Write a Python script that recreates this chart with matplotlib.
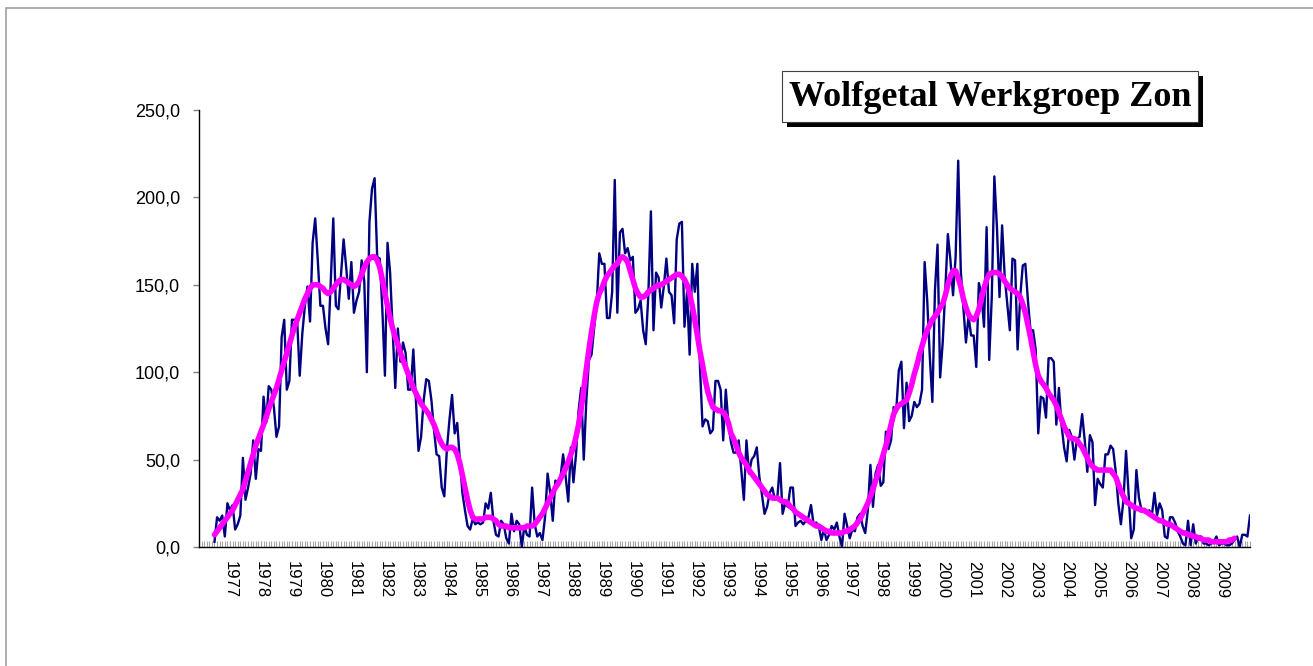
import matplotlib
matplotlib.use('Agg')
import matplotlib.pyplot as plt
import numpy as np
from matplotlib.patches import Rectangle

## maandelijkse wolfgetallen, jul 1976 t/m dec 2009
wolf_monthly = [
    3, 17, 15, 18, 6, 25,                                   # 1976 jul-dec
    21, 24, 10, 13, 18, 51, 27, 34, 42, 61, 39, 56,         # 1977
    55, 86, 71, 92, 90, 80, 63, 69, 120, 130, 90, 95,       # 1978
    130, 130, 130, 98, 122, 138, 149, 129, 174, 188, 164, 138,   # 1979
    138, 125, 116, 151, 188, 138, 136, 156, 176, 160, 142, 163,  # 1980
    134, 141, 146, 164, 152, 100, 186, 205, 211, 166, 165, 136,  # 1981
    98, 174, 157, 124, 91, 125, 106, 117, 111, 90, 90, 113,      # 1982
    84, 55, 63, 84, 96, 95, 84, 67, 53, 52, 34, 29,         # 1983
    56, 73, 87, 65, 71, 50, 31, 21, 12, 10, 16, 13,         # 1984
    14, 13, 14, 25, 22, 31, 15, 7, 6, 15, 13, 5,            # 1985
    2, 19, 9, 15, 13, 0, 12, 7, 6, 34, 13, 6,               # 1986
    8, 4, 17, 42, 31, 15, 38, 36, 40, 53, 40, 26,           # 1987
    57, 37, 53, 78, 91, 50, 84, 107, 110, 125, 139, 168,    # 1988
    162, 162, 131, 131, 146, 210, 134, 180, 182, 168, 171, 164,  # 1989
    166, 134, 136, 141, 124, 116, 144, 192, 124, 157, 154, 137,  # 1990
    149, 165, 146, 144, 128, 176, 185, 186, 126, 146, 110, 162,  # 1991
    146, 162, 103, 69, 73, 72, 65, 67, 95, 95, 90, 61,      # 1992
    90, 71, 60, 54, 54, 61, 44, 27, 61, 42, 50, 52,         # 1993
    57, 40, 30, 19, 23, 31, 34, 27, 29, 48, 19, 25,         # 1994
    23, 34, 34, 12, 14, 15, 13, 15, 17, 24, 13, 14,         # 1995
    12, 4, 10, 4, 7, 12, 10, 14, 6, 0, 19, 12,              # 1996
    5, 10, 9, 17, 19, 12, 8, 21, 47, 23, 42, 47,            # 1997
    35, 37, 66, 56, 61, 80, 78, 101, 106, 68, 94, 72,       # 1998
    75, 83, 80, 82, 90, 163, 141, 109, 83, 147, 173, 97,    # 1999
    117, 147, 179, 164, 144, 166, 221, 158, 137, 117, 132, 121,  # 2000
    121, 103, 151, 145, 126, 183, 107, 143, 212, 183, 143, 184,  # 2001
    155, 139, 124, 165, 164, 113, 143, 161, 162, 141, 124, 124,  # 2002
    113, 65, 86, 85, 74, 108, 108, 106, 70, 91, 70, 57,     # 2003
    49, 67, 63, 50, 62, 63, 76, 61, 43, 64, 60, 24,         # 2004
    39, 36, 34, 53, 53, 58, 56, 43, 25, 13, 27, 55,         # 2005
    30, 5, 10, 44, 28, 21, 20, 20, 21, 18, 31, 18,          # 2006
    25, 21, 6, 5, 17, 17, 14, 9, 6, 2, 1, 15,               # 2007
    1, 13, 2, 6, 6, 2, 2, 1, 2, 3, 6, 1,                    # 2008
    2, 2, 1, 1, 2, 4, 6, 0, 7, 7, 6, 18,                    # 2009
]

## gladgestreken wolfgetal, jul 1976 t/m jun 2009
wolf_smoothed = [
    7, 9, 11, 13, 15, 17,                                   # 1976 jul-dec
    19, 21, 24, 27, 30, 33, 38, 43, 48, 53, 58, 62,         # 1977
    66, 70, 74, 79, 83, 87, 91, 96, 101, 106, 111, 116,     # 1978
    121, 126, 130, 134, 138, 142, 145, 148, 150, 150, 150, 149,  # 1979
    148, 146, 145, 146, 148, 150, 152, 153, 153, 152, 151, 150,  # 1980
    149, 150, 152, 156, 160, 163, 165, 166, 166, 164, 160, 153,  # 1981
    145, 138, 131, 125, 120, 116, 111, 107, 103, 99, 95, 91,     # 1982
    88, 85, 82, 80, 78, 76, 73, 70, 66, 62, 59, 57,         # 1983
    56, 57, 57, 56, 53, 48, 41, 34, 27, 21, 17, 16,         # 1984
    16, 16, 16, 17, 17, 17, 16, 15, 13, 12, 12, 12,         # 1985
    11, 11, 11, 11, 11, 11, 11, 12, 12, 12, 13, 15,         # 1986
    17, 19, 22, 25, 28, 31, 34, 36, 39, 42, 45, 49,         # 1987
    53, 57, 63, 70, 79, 90, 102, 113, 123, 132, 140, 145,   # 1988
    148, 152, 155, 157, 159, 161, 162, 165, 166, 165, 163, 158,  # 1989
    153, 148, 145, 143, 143, 144, 146, 147, 148, 149, 150, 150,  # 1990
    151, 152, 153, 154, 155, 156, 156, 155, 153, 150, 145, 138,  # 1991
    130, 121, 112, 104, 96, 89, 84, 80, 79, 78, 78, 77,     # 1992
    75, 71, 65, 62, 58, 54, 51, 49, 47, 44, 42, 40,         # 1993
    38, 36, 34, 32, 30, 29, 28, 28, 28, 27, 26, 26,         # 1994
    25, 23, 22, 20, 19, 18, 17, 16, 15, 14, 13, 12,         # 1995
    12, 11, 10, 9, 9, 8, 8, 8, 8, 8, 9, 9,                  # 1996
    10, 11, 12, 14, 16, 19, 22, 25, 29, 33, 38, 42,         # 1997
    48, 53, 58, 64, 70, 76, 79, 81, 82, 83, 84, 88,         # 1998
    93, 99, 104, 110, 115, 120, 124, 127, 130, 132, 134, 137,    # 1999
    139, 144, 150, 155, 158, 158, 154, 149, 142, 137, 133, 131,  # 2000
    130, 132, 136, 142, 148, 153, 156, 157, 157, 157, 156, 155,  # 2001
    152, 150, 148, 147, 146, 145, 143, 139, 134, 127, 120, 112,  # 2002
    104, 98, 95, 93, 91, 88, 86, 84, 81, 77, 73, 69,        # 2003
    66, 63, 62, 62, 61, 59, 57, 54, 51, 48, 46, 45,         # 2004
    44, 44, 44, 44, 44, 44, 42, 40, 36, 32, 29, 26,         # 2005
    25, 24, 23, 22, 22, 21, 21, 20, 19, 18, 17, 16,         # 2006
    15, 15, 14, 13, 13, 12, 11, 10, 9, 8, 8, 7,             # 2007
    7, 6, 6, 5, 5, 4, 4, 4, 3, 3, 3, 3,                     # 2008
    3, 3, 3, 4, 4, 5,                                       # 2009 jan-jun
]

year_labels = [str(y) for y in range(1977, 2010)]
first_month = 6          # jul 1976, as telt maanden vanaf jan 1976
n_months = 408           # jan 1976 .. dec 2009

title = 'Wolfgetal Werkgroep Zon'

plt.rcParams['font.family'] = ['Liberation Sans', 'DejaVu Sans']

fig = plt.figure(figsize=(13.13, 6.66), dpi=100)
ax = fig.add_axes([199 / 1313, 1 - 547 / 666, 1051 / 1313, 437 / 666])

x_raw = np.arange(first_month, first_month + len(wolf_monthly))
x_smooth = np.arange(first_month, first_month + len(wolf_smoothed))

ax.plot(x_raw, wolf_monthly, color='#000080', lw=1.7, zorder=2)
ax.plot(x_smooth, wolf_smoothed, color='#FF00FF', lw=4.0, zorder=3,
        solid_capstyle='round', solid_joinstyle='round')

ax.set_xlim(0, n_months - 1)
ax.set_ylim(0, 250)

## y-as
yt = np.arange(0, 251, 50)
ax.set_yticks(yt)
ax.set_yticklabels([('%.1f' % v).replace('.', ',') for v in yt], fontsize=13)
ax.tick_params(axis='y', direction='out', length=4.5, width=1, color='#808080', pad=9)

## x-as: streepje per maand, jaartal bij januari
ax.xaxis.remove_overlapping_locs = False
ax.set_xticks(np.arange(0, n_months), minor=True)
ax.set_xticks(np.arange(12, 12 * (len(year_labels) + 1), 12))
ax.set_xticklabels(year_labels, rotation=-90, fontsize=12)
ax.tick_params(axis='x', which='both', direction='in', length=4.5, width=0.8,
               color='#a6a6a6')
ax.tick_params(axis='x', which='major', pad=10)

for s in ['top', 'right']:
    ax.spines[s].set_visible(False)
ax.spines['left'].set_linewidth(1)
ax.spines['bottom'].set_linewidth(1)

## titelkader met schaduw
bx, by, bw, bh = 782, 71, 416, 51
W, H = 1313.0, 666.0
fig.add_artist(Rectangle(((bx + 5) / W, 1 - (by + bh + 5) / H), bw / W, bh / H,
                         transform=fig.transFigure, facecolor='black',
                         edgecolor='none', zorder=5))
fig.add_artist(Rectangle((bx / W, 1 - (by + bh) / H), bw / W, bh / H,
                         transform=fig.transFigure, facecolor='white',
                         edgecolor='#404040', lw=0.8, zorder=6))
fig.text((bx + bw / 2) / W, 1 - (by + bh / 2 + 1) / H, title,
         family='Liberation Serif', fontweight='bold', fontsize=26,
         ha='center', va='center', zorder=7)

## grijze rand van het grafiekgebied
fig.add_artist(Rectangle((6 / W, -0.1), 1.2, 1 - 8 / H + 0.1,
                         transform=fig.transFigure, fill=False,
                         edgecolor='#a0a0a0', lw=1.2, zorder=0))

fig.savefig('out.png', dpi=100)
